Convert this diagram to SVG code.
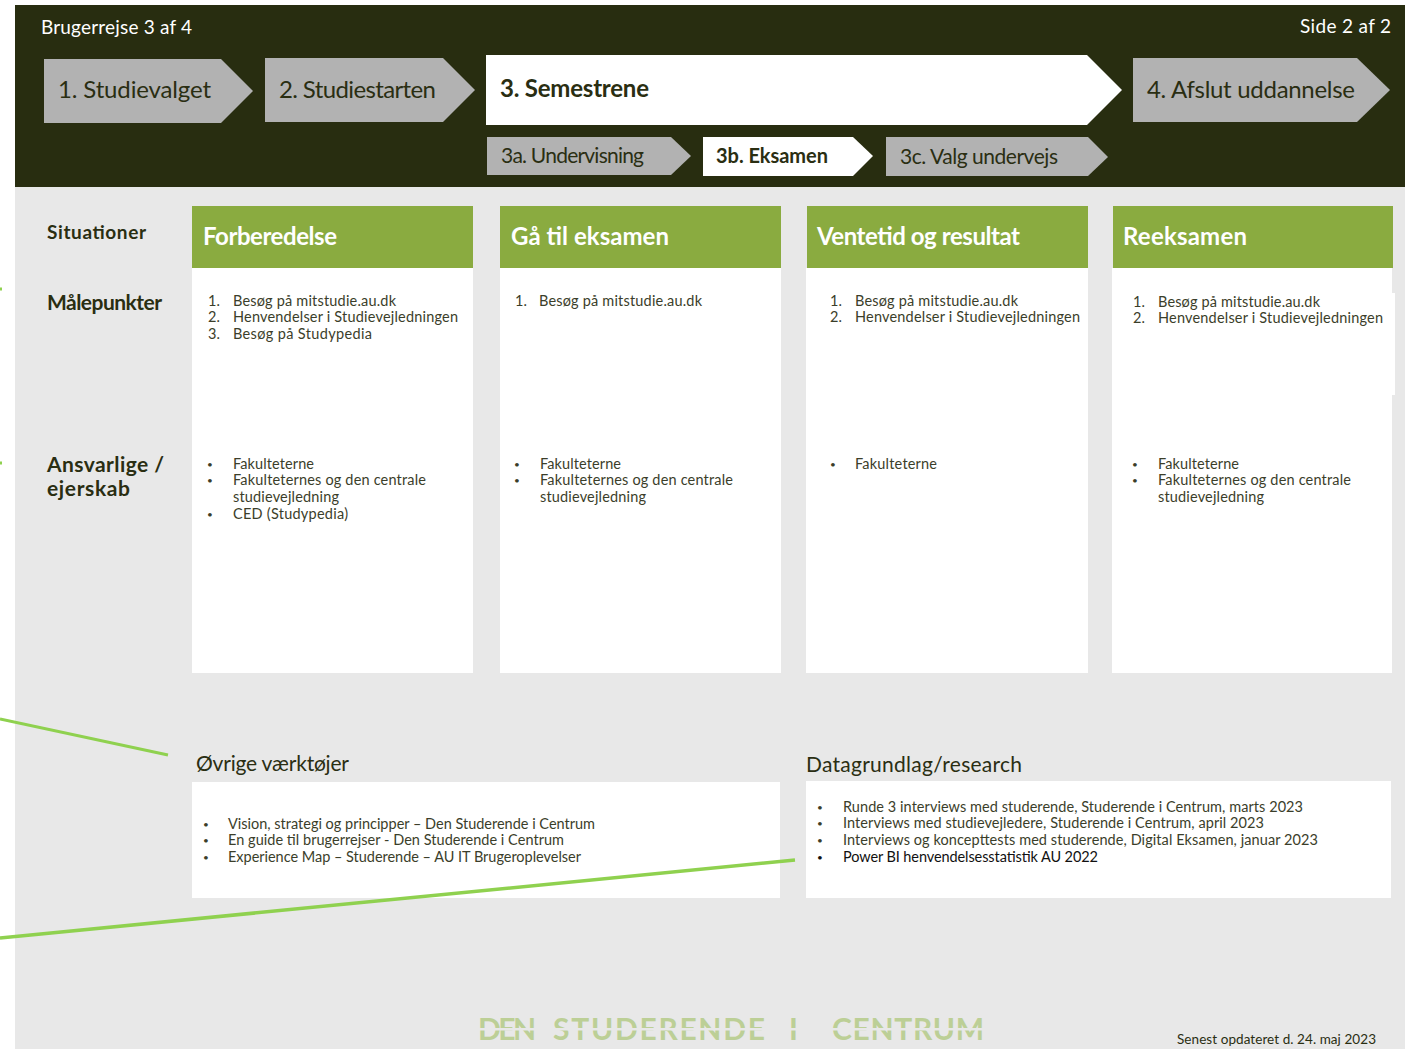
<svg xmlns="http://www.w3.org/2000/svg" width="1405" height="1049" viewBox="0 0 1405 1049">
<style>
text{font-family:"Lato","Noto Sans","Liberation Sans",sans-serif;fill:#2a2e12}
.w{fill:#fff}
.g{fill:#b2b2b2}
.card{fill:#fff}
.head{fill:#8aab40}
.ht{fill:#fff;font-size:24px;font-weight:700}
.nav{font-size:24px}
.sub{font-size:21px}
.lab{font-size:21px;font-weight:700}
.b{font-size:14.5px;fill:#3b3e2a}
.d{font-size:10px;fill:#3b3e2a}
.t{font-size:21px}
.logo{font-size:30px;font-weight:700;fill:#bccf96}
.line{stroke:#8fd14f;stroke-width:3;fill:none}
</style>
<rect width="1405" height="1049" fill="#fff"/>
<rect id="page" x="15" y="187" width="1390" height="862" fill="#e8e8e8"/>
<rect id="banner" x="15" y="5" width="1390" height="182" fill="#282d10"/>
<text class="w" x="41" y="34" font-size="19" textLength="151">Brugerrejse 3 af 4</text>
<text class="w" x="1300" y="33" font-size="19" textLength="91">Side 2 af 2</text>

<g id="step1"><polygon class="g" points="44,59 221,59 253,91 221,123 44,123"/><text class="nav" x="58" y="98" textLength="153">1. Studievalget</text></g>
<g id="step2"><polygon class="g" points="265,58 443,58 475,90 443,122 265,122"/><text class="nav" x="279" y="98" textLength="157">2. Studiestarten</text></g>
<g id="step3"><polygon class="w" points="486,55 1087,55 1122,90 1087,125 486,125"/><text class="nav" x="500" y="97" font-weight="700" textLength="149">3. Semestrene</text></g>
<g id="step4"><polygon class="g" points="1133,58 1357,58 1390,90 1357,122 1133,122"/><text class="nav" x="1147" y="98" textLength="208">4. Afslut uddannelse</text></g>
<g id="step3a"><polygon class="g" points="487,137 671,137 691,156 671,175 487,175"/><text class="sub" x="501" y="163" textLength="143">3a. Undervisning</text></g>
<g id="step3b"><polygon class="w" points="703,137 853,137 873,156 853,176 703,176"/><text class="sub" x="716" y="163" font-weight="700" textLength="112" style="font-size:20px">3b. Eksamen</text></g>
<g id="step3c"><polygon class="g" points="886,137 1088,137 1108,157 1088,176 886,176"/><text class="sub" x="900" y="164" textLength="158">3c. Valg undervejs</text></g>

<g id="row-labels">
<text class="lab" x="47" y="239" style="font-size:19px" textLength="99">Situationer</text>
<text class="lab" x="47" y="310" textLength="115">Målepunkter</text>
<text class="lab" x="47" y="472" textLength="117">Ansvarlige /</text>
<text class="lab" x="47" y="496" textLength="83">ejerskab</text>
</g>

<g id="col1">
<rect class="card" x="192" y="268" width="281" height="405"/><rect class="head" x="192" y="206" width="281" height="62"/>
<text class="ht" x="203" y="245" textLength="134">Forberedelse</text>
<text class="b" x="208" y="306">1.</text><text class="b" x="233" y="306" textLength="163">Besøg på mitstudie.au.dk</text>
<text class="b" x="208" y="322">2.</text><text class="b" x="233" y="322" textLength="225">Henvendelser i Studievejledningen</text>
<text class="b" x="208" y="339">3.</text><text class="b" x="233" y="339" textLength="139">Besøg på Studypedia</text>
<text class="d" x="207" y="468">•</text><text class="b" x="233" y="469" textLength="81">Fakulteterne</text>
<text class="d" x="207" y="484">•</text><text class="b" x="233" y="485" textLength="193">Fakulteternes og den centrale</text>
<text class="b" x="233" y="502" textLength="106">studievejledning</text>
<text class="d" x="207" y="518">•</text><text class="b" x="233" y="519" textLength="115">CED (Studypedia)</text>
</g>
<g id="col2">
<rect class="card" x="500" y="268" width="281" height="405"/><rect class="head" x="500" y="206" width="281" height="62"/>
<text class="ht" x="511" y="245" textLength="158">Gå til eksamen</text>
<text class="b" x="515" y="306">1.</text><text class="b" x="539" y="306" textLength="163">Besøg på mitstudie.au.dk</text>
<text class="d" x="514" y="468">•</text><text class="b" x="540" y="469" textLength="81">Fakulteterne</text>
<text class="d" x="514" y="484">•</text><text class="b" x="540" y="485" textLength="193">Fakulteternes og den centrale</text>
<text class="b" x="540" y="502" textLength="106">studievejledning</text>
</g>
<g id="col3">
<rect class="card" x="806" y="268" width="282" height="405"/><rect class="head" x="807" y="206" width="281" height="62"/>
<text class="ht" x="817" y="245" textLength="203">Ventetid og resultat</text>
<text class="b" x="830" y="306">1.</text><text class="b" x="855" y="306" textLength="163">Besøg på mitstudie.au.dk</text>
<text class="b" x="830" y="322">2.</text><text class="b" x="855" y="322" textLength="225">Henvendelser i Studievejledningen</text>
<text class="d" x="830" y="468">•</text><text class="b" x="855" y="469" textLength="82">Fakulteterne</text>
</g>
<g id="col4">
<rect class="card" x="1112" y="268" width="280" height="405"/><rect class="card" x="1392" y="293" width="3" height="102"/><rect class="head" x="1113" y="206" width="280" height="62"/>
<text class="ht" x="1123" y="245" textLength="124">Reeksamen</text>
<text class="b" x="1133" y="307">1.</text><text class="b" x="1158" y="307" textLength="162">Besøg på mitstudie.au.dk</text>
<text class="b" x="1133" y="323">2.</text><text class="b" x="1158" y="323" textLength="225">Henvendelser i Studievejledningen</text>
<text class="d" x="1132" y="468">•</text><text class="b" x="1158" y="469" textLength="81">Fakulteterne</text>
<text class="d" x="1132" y="484">•</text><text class="b" x="1158" y="485" textLength="193">Fakulteternes og den centrale</text>
<text class="b" x="1158" y="502" textLength="106">studievejledning</text>
</g>

<g id="tools">
<text class="t" x="196" y="771" textLength="153">Øvrige værktøjer</text>
<rect class="card" x="192" y="782" width="588" height="116"/>
<text class="d" x="203" y="828">•</text><text class="b" x="228" y="829" textLength="367">Vision, strategi og principper – Den Studerende i Centrum</text>
<text class="d" x="203" y="844">•</text><text class="b" x="228" y="845" textLength="336">En guide til brugerrejser - Den Studerende i Centrum</text>
<text class="d" x="203" y="861">•</text><text class="b" x="228" y="862" textLength="353">Experience Map – Studerende – AU IT Brugeroplevelser</text>
</g>
<g id="research">
<text class="t" x="806" y="772" textLength="216">Datagrundlag/research</text>
<rect class="card" x="806" y="781" width="585" height="117"/>
<text class="d" x="817" y="811">•</text><text class="b" x="843" y="812" textLength="460">Runde 3 interviews med studerende, Studerende i Centrum, marts 2023</text>
<text class="d" x="817" y="827">•</text><text class="b" x="843" y="828" textLength="421">Interviews med studievejledere, Studerende i Centrum, april 2023</text>
<text class="d" x="817" y="844">•</text><text class="b" x="843" y="845" textLength="475">Interviews og koncepttests med studerende, Digital Eksamen, januar 2023</text>
<text class="d" x="817" y="861" style="fill:#111">•</text><text class="b" x="843" y="862" style="fill:#111" textLength="255">Power BI henvendelsesstatistik AU 2022</text>
</g>

<g id="connectors">
<line class="line" x1="0" y1="719" x2="168" y2="755"/>
<line class="line" x1="0" y1="938" x2="795" y2="860" style="stroke-width:3.5"/>
<line class="line" x1="0" y1="289" x2="2" y2="289"/>
<line class="line" x1="0" y1="463" x2="2" y2="463"/>
</g>

<g id="logo">
<text class="logo" x="478" y="1040" textLength="58">DEN</text>
<text class="logo" x="553" y="1040" textLength="212">STUDERENDE</text>
<text class="logo" x="789" y="1040">I</text>
<text class="logo" x="832" y="1040" textLength="152">CENTRUM</text>
<rect x="470" y="1028" width="520" height="2.5" fill="#e8e8e8"/>
</g>
<text id="updated" x="1177" y="1044" font-size="13.5" textLength="199">Senest opdateret d. 24. maj 2023</text>
</svg>
